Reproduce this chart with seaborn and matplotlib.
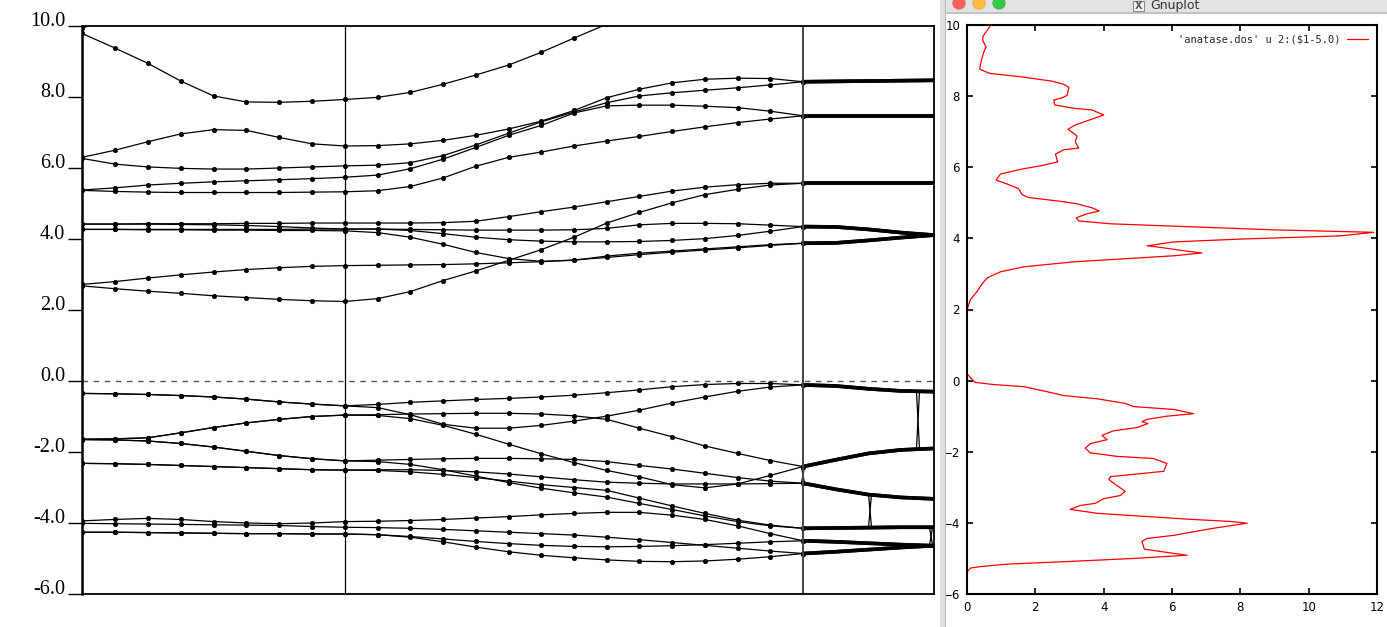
import numpy as np
import matplotlib
matplotlib.use("Agg")
import matplotlib.pyplot as plt
import seaborn as sns
from matplotlib.patches import Rectangle, Ellipse

# ---- k-path (fraction of path length): Gamma -> X -> M -> end ----
K_SEG1 = [0.0000, 0.0386, 0.0772, 0.1158, 0.1544, 0.1930, 0.2316, 0.2702, 0.3087]
K_SEG2 = [0.3471, 0.3855, 0.4239, 0.4623, 0.5007, 0.5391, 0.5775, 0.6159,
          0.6543, 0.6927, 0.7311, 0.7695, 0.8079, 0.8462]
K_SEG3 = [0.8846, 0.9231, 0.9615, 1.0000]
K_SYM = [0.3087, 0.8462]

nan = np.nan

# conduction bands (eV), values at K_SEG1 + K_SEG2 + K_SEG3
COND_BANDS = [
    [9.93, 10.30, nan, nan, nan, nan, nan, nan, nan,
     nan, nan, nan, nan, nan, nan, nan, nan, nan, nan, nan, nan, nan, nan,
     nan, nan, nan, nan],
    [9.79, 9.38, 8.95, 8.45, 8.03, 7.86, 7.85, 7.88, 7.93,
     7.99, 8.13, 8.36, 8.62, 8.90, 9.26, 9.66, 10.05, 10.45, nan, nan, nan, nan, nan,
     nan, nan, nan, nan],
    [6.30, 6.50, 6.74, 6.96, 7.08, 7.06, 6.86, 6.68, 6.62,
     6.63, 6.68, 6.78, 6.92, 7.10, 7.32, 7.62, 7.98, 8.22, 8.40, 8.50, 8.53, 8.52, 8.43,
     8.44, 8.45, 8.46, 8.47],
    [6.27, 6.11, 6.03, 5.99, 5.97, 5.97, 6.00, 6.03, 6.06,
     6.08, 6.15, 6.35, 6.65, 6.98, 7.30, 7.58, 7.84, 8.03, 8.12, 8.19, 8.26, 8.34, 8.43,
     8.44, 8.45, 8.46, 8.47],
    [5.38, 5.44, 5.52, 5.57, 5.61, 5.64, 5.67, 5.70, 5.74,
     5.80, 5.98, 6.25, 6.58, 6.92, 7.20, 7.55, 7.75, 7.77, 7.77, 7.74, 7.70, 7.60, 7.47,
     7.47, 7.47, 7.47, 7.47],
    [5.37, 5.34, 5.32, 5.31, 5.31, 5.31, 5.31, 5.32, 5.33,
     5.36, 5.48, 5.72, 6.05, 6.30, 6.45, 6.62, 6.76, 6.89, 7.03, 7.16, 7.28, 7.38, 7.47,
     7.47, 7.47, 7.47, 7.47],
    [4.42, 4.42, 4.43, 4.43, 4.43, 4.44, 4.44, 4.45, 4.45,
     4.45, 4.45, 4.46, 4.50, 4.63, 4.77, 4.90, 5.05, 5.20, 5.35, 5.46, 5.53, 5.57, 5.57,
     5.57, 5.57, 5.57, 5.57],
    [2.68, 2.60, 2.53, 2.47, 2.40, 2.35, 2.30, 2.26, 2.24,
     2.32, 2.52, 2.83, 3.10, 3.40, 3.70, 4.05, 4.45, 4.75, 5.02, 5.25, 5.40, 5.52, 5.57,
     5.57, 5.57, 5.57, 5.57],
    [4.42, 4.42, 4.42, 4.41, 4.40, 4.38, 4.35, 4.31, 4.28,
     4.28, 4.24, 4.15, 4.05, 3.98, 3.94, 3.92, 3.92, 3.93, 3.96, 4.01, 4.10, 4.22, 4.35,
     4.34, 4.27, 4.18, 4.11],
    [4.27, 4.27, 4.27, 4.27, 4.27, 4.27, 4.27, 4.28, 4.28,
     4.28, 4.27, 4.26, 4.25, 4.25, 4.25, 4.26, 4.30, 4.40, 4.44, 4.44, 4.43, 4.39, 4.35,
     4.34, 4.27, 4.18, 4.11],
    [4.27, 4.27, 4.26, 4.26, 4.25, 4.25, 4.24, 4.24, 4.23,
     4.18, 4.05, 3.85, 3.62, 3.45, 3.37, 3.40, 3.52, 3.60, 3.66, 3.72, 3.78, 3.84, 3.88,
     3.89, 3.96, 4.04, 4.11],
    [2.72, 2.80, 2.90, 2.99, 3.07, 3.14, 3.19, 3.23, 3.25,
     3.26, 3.27, 3.28, 3.30, 3.33, 3.36, 3.41, 3.48, 3.56, 3.63, 3.69, 3.75, 3.82, 3.88,
     3.89, 3.96, 4.04, 4.11],
]

# valence bands (eV)
VAL_BANDS = [
    [-0.35, -0.36, -0.38, -0.41, -0.45, -0.51, -0.59, -0.65, -0.70,
     -0.66, -0.60, -0.56, -0.52, -0.49, -0.45, -0.40, -0.33, -0.25, -0.16, -0.10, -0.07, -0.07, -0.11,
     -0.14, -0.22, -0.28, -0.30],
    [-0.35, -0.36, -0.38, -0.41, -0.45, -0.51, -0.59, -0.65, -0.70,
     -0.75, -0.95, -1.22, -1.33, -1.33, -1.25, -1.13, -0.99, -0.82, -0.62, -0.45, -0.29, -0.17, -0.11,
     -0.14, -0.22, -0.28, -0.30],
    [-1.64, -1.63, -1.60, -1.46, -1.31, -1.18, -1.08, -1.00, -0.96,
     -0.95, -0.93, -0.92, -0.91, -0.91, -0.93, -0.98, -1.08, -1.33, -1.57, -1.83, -2.04, -2.24, -2.41,
     -2.22, -2.04, -1.94, -1.90],
    [-1.64, -1.63, -1.60, -1.46, -1.31, -1.18, -1.08, -1.00, -0.96,
     -0.97, -1.06, -1.25, -1.50, -1.78, -2.05, -2.30, -2.52, -2.70, -2.92, -3.01, -2.90, -2.66, -2.41,
     -2.22, -2.04, -1.94, -1.90],
    [-1.65, -1.66, -1.69, -1.76, -1.86, -1.98, -2.10, -2.19, -2.25,
     -2.23, -2.21, -2.19, -2.18, -2.18, -2.19, -2.21, -2.27, -2.38, -2.48, -2.60, -2.72, -2.82, -2.88,
     -3.05, -3.20, -3.28, -3.32],
    [-1.65, -1.66, -1.69, -1.76, -1.86, -1.98, -2.10, -2.19, -2.25,
     -2.27, -2.35, -2.50, -2.68, -2.86, -3.02, -3.15, -3.27, -3.45, -3.62, -3.80, -3.96, -4.08, -4.15,
     -4.14, -4.13, -4.12, -4.12],
    [-2.32, -2.33, -2.35, -2.38, -2.41, -2.44, -2.47, -2.50, -2.51,
     -2.50, -2.50, -2.52, -2.56, -2.62, -2.70, -2.78, -2.85, -2.88, -2.90, -2.90, -2.90, -2.89, -2.88,
     -3.05, -3.20, -3.28, -3.32],
    [-2.32, -2.33, -2.35, -2.38, -2.41, -2.44, -2.47, -2.50, -2.51,
     -2.52, -2.56, -2.63, -2.72, -2.82, -2.92, -3.00, -3.08, -3.30, -3.52, -3.73, -3.92, -4.06, -4.15,
     -4.14, -4.13, -4.12, -4.12],
    [-3.94, -3.90, -3.87, -3.90, -3.96, -4.00, -4.02, -4.00, -3.96,
     -3.95, -3.93, -3.90, -3.86, -3.82, -3.77, -3.73, -3.70, -3.70, -3.78, -3.90, -4.08, -4.30, -4.50,
     -4.53, -4.57, -4.61, -4.64],
    [-4.01, -4.02, -4.03, -4.04, -4.05, -4.06, -4.07, -4.10, -4.12,
     -4.13, -4.15, -4.18, -4.22, -4.26, -4.30, -4.34, -4.40, -4.47, -4.55, -4.63, -4.71, -4.79, -4.86,
     -4.81, -4.75, -4.69, -4.64],
    [-4.26, -4.26, -4.27, -4.28, -4.29, -4.30, -4.30, -4.31, -4.31,
     -4.33, -4.38, -4.45, -4.52, -4.58, -4.63, -4.66, -4.67, -4.66, -4.64, -4.61, -4.57, -4.53, -4.50,
     -4.53, -4.57, -4.61, -4.64],
    [-4.26, -4.26, -4.27, -4.28, -4.29, -4.30, -4.30, -4.31, -4.31,
     -4.33, -4.40, -4.53, -4.68, -4.81, -4.91, -4.98, -5.04, -5.08, -5.09, -5.07, -5.02, -4.95, -4.86,
     -4.81, -4.75, -4.69, -4.64],
]

# band-swap glitches in the last segment: k, low energy, high energy
GLITCH_K = [0.8462, 0.9249, 0.9812, 0.9965]
GLITCH_LO = [-2.88, -4.13, -1.92, -4.63]
GLITCH_HI = [-2.41, -3.18, -0.29, -4.12]

YTICKS = [10, 8, 6, 4, 2, 0, -2, -4, -6]
YTICK_LABELS = ["10.0", "8.0", "6.0", "4.0", "2.0", "0.0", "-2.0", "-4.0", "-6.0"]

# density of states, shifted energy (eV) and DOS value
DOS_E = [10.0, 9.85, 9.69, 9.57, 9.38, 9.24, 8.96, 8.76, 8.64, 8.54, 8.42, 8.34, 8.25,
         8.02, 7.95, 7.89, 7.75, 7.66, 7.61, 7.47, 7.19, 7.07, 6.88, 6.71, 6.54, 6.49,
         6.37, 6.15, 6.04, 5.95, 5.81, 5.64, 5.53, 5.40, 5.23, 5.15, 5.03, 4.97, 4.86,
         4.77, 4.69, 4.58, 4.49, 4.41, 4.33, 4.24, 4.17, 4.07, 3.98, 3.90, 3.79, 3.76,
         3.64, 3.59, 3.51, 3.34, 3.20, 3.06, 2.89, 2.72, 2.50, 2.28, 2.05, 1.71, 0.20,
         0.14, 0.03, -0.05, -0.11, -0.17, -0.31, -0.42, -0.51, -0.64, -0.73, -0.81,
         -0.93, -1.00, -1.09, -1.15, -1.21, -1.32, -1.41, -1.54, -1.66, -1.77, -1.90,
         -2.03, -2.13, -2.19, -2.33, -2.55, -2.70, -2.78, -2.92, -3.11, -3.23, -3.32,
         -3.45, -3.51, -3.62, -3.73, -3.81, -3.90, -3.96, -4.01, -4.15, -4.35, -4.44,
         -4.52, -4.74, -4.83, -4.91, -5.00, -5.08, -5.16, -5.23, -5.27, -5.36, -5.47]
DOS_VAL = [0.70, 0.59, 0.47, 0.46, 0.56, 0.49, 0.41, 0.37, 0.66, 1.61, 2.49, 2.81, 2.98,
           2.93, 2.78, 2.54, 2.57, 3.12, 3.66, 4.00, 3.17, 2.96, 3.22, 3.17, 3.27, 2.83,
           2.59, 2.65, 2.15, 1.61, 0.98, 0.85, 1.17, 1.51, 1.61, 1.80, 2.83, 3.22, 3.66,
           3.87, 3.51, 3.20, 3.27, 4.20, 6.44, 8.98, 11.90, 10.93, 8.00, 6.05, 5.27, 5.56,
           6.44, 6.88, 6.05, 3.12, 1.66, 0.98, 0.59, 0.44, 0.29, 0.10, 0.02, 0.00, 0.00,
           0.05, 0.15, 0.24, 0.78, 1.66, 2.34, 2.83, 3.80, 4.63, 4.88, 6.05,
           6.63, 5.85, 5.27, 5.12, 5.29, 4.98, 4.29, 3.95, 4.10, 3.61, 3.46,
           3.61, 4.39, 5.46, 5.85, 5.76, 4.20, 4.15, 4.34, 4.63, 4.49, 4.00,
           3.76, 3.32, 3.02, 3.80, 5.07, 6.54, 7.71, 8.20, 7.22, 6.05, 5.27,
           5.12, 5.19, 5.85, 6.44, 4.88, 3.12, 1.17, 0.39, 0.10, 0.02, 0.00]
DOS_LABEL = "'anatase.dos' u 2:($1-5.0)"

sns.set_theme(style="white")
plt.rcParams["font.family"] = ["DejaVu Sans"]

W, H = 1387, 627
fig = plt.figure(figsize=(W / 100, H / 100), dpi=100)
fig.patch.set_facecolor("white")

# ---------------- band structure ----------------
ax = fig.add_axes([82 / W, 33 / H, 852 / W, 568 / H])
k_all = np.array(K_SEG1 + K_SEG2 + K_SEG3)
n_mark = len(K_SEG1) + len(K_SEG2)

for band in COND_BANDS + VAL_BANDS:
    e = np.array(band, dtype=float)
    ax.plot(k_all[:n_mark], e[:n_mark], color="black", lw=0.9,
            marker="o", ms=3.3, mfc="black", mec="black", mew=0.4)
    ax.plot(k_all[n_mark - 1:], e[n_mark - 1:], color="black", lw=2.6)

d = 0.0018
for k0, lo, hi in zip(GLITCH_K, GLITCH_LO, GLITCH_HI):
    ax.plot([k0 - d, k0 + d], [lo, hi], color="black", lw=0.9)
    ax.plot([k0 - d, k0 + d], [hi, lo], color="black", lw=0.9)

ax.axvline(K_SYM[0], color="black", lw=0.9)
ax.axvline(K_SYM[1], color="#444444", lw=1.4)
ax.axhline(0, color="#555555", lw=1.0, ls=(0, (4, 4)))

ax.set_xlim(0, 1)
ax.set_ylim(-6, 10)
ax.set_xticks([])
ax.set_yticks(YTICKS)
ax.set_yticklabels(YTICK_LABELS, family="Liberation Serif", fontsize=14.5, color="black")
for lab in ax.get_yticklabels():
    lab.set_verticalalignment("baseline")
ax.tick_params(axis="y", direction="out", length=10, width=1.0, pad=2, left=True,
               colors="black")
for name, sp in ax.spines.items():
    sp.set_visible(True)
    sp.set_color("black")
    sp.set_linewidth(1.3)
ax.spines["left"].set_linewidth(1.8)

# ---------------- gnuplot window chrome ----------------
fig.add_artist(Rectangle((940 / W, 0), 6 / W, 1, transform=fig.transFigure,
                         facecolor="#dedede", edgecolor="none"))
fig.add_artist(Rectangle((945 / W, 0), 1.2 / W, 1, transform=fig.transFigure,
                         facecolor="#b8b8b8", edgecolor="none"))
fig.add_artist(Rectangle((946 / W, (H - 13) / H), (W - 946) / W, 13 / H,
                         transform=fig.transFigure, facecolor="#e3e3e3", edgecolor="none"))
fig.add_artist(Rectangle((946 / W, (H - 13.5) / H), (W - 946) / W, 1 / H,
                         transform=fig.transFigure, facecolor="#c2c2c2", edgecolor="none"))
for cx, col in zip([959, 979, 999], ["#fc605c", "#fdbc40", "#34c84a"]):
    fig.add_artist(Ellipse((cx / W, (H - 3) / H), 13 / W, 13 / H, transform=fig.transFigure,
                           facecolor=col, edgecolor="#00000022", lw=0.5))
fig.add_artist(Rectangle((1133 / W, (H - 11) / H), 11 / W, 10 / H, transform=fig.transFigure,
                         facecolor="#f4f4f4", edgecolor="#8a8a8a", lw=0.8))
fig.text(1138.5 / W, (H - 6) / H, "X", ha="center", va="center", fontsize=7,
         color="#555555", fontweight="bold")
fig.text(1150 / W, (H - 6) / H, "Gnuplot", ha="left", va="center", fontsize=9,
         color="#333333")

# ---------------- DOS panel ----------------
ax2 = fig.add_axes([967 / W, 33 / H, 410 / W, 569 / H])
sns.lineplot(x=DOS_VAL, y=DOS_E, sort=False, estimator=None, color="red", lw=0.9,
             ax=ax2, label=DOS_LABEL)
ax2.set_xlim(0, 12)
ax2.set_ylim(-6, 10)
ax2.set_xticks([0, 2, 4, 6, 8, 10, 12])
ax2.set_yticks([-6, -4, -2, 0, 2, 4, 6, 8, 10])
ax2.tick_params(direction="in", length=4, width=1.2, top=True, right=True,
                bottom=True, left=True, labelsize=8.5, colors="black", pad=5)
for sp in ax2.spines.values():
    sp.set_visible(True)
    sp.set_color("black")
    sp.set_linewidth(1.5)
ax2.set_xlabel("")
ax2.set_ylabel("")
ax2.legend(loc="upper right", frameon=False, markerfirst=False, handlelength=2.0,
           handletextpad=0.6, borderaxespad=0.5,
           prop={"family": "DejaVu Sans Mono", "size": 7.5})

fig.savefig("out.png", dpi=100)
